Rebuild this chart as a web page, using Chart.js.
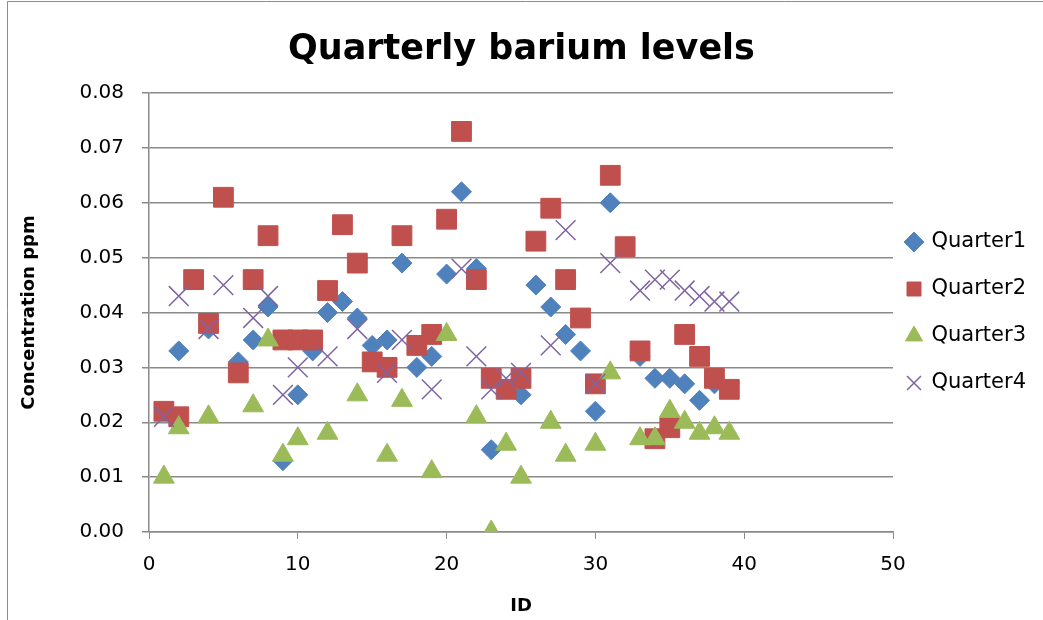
<!DOCTYPE html>
<html>
<head>
<meta charset="utf-8">
<script src="https://cdn.jsdelivr.net/npm/chart.js@4.4.1/dist/chart.umd.min.js"></script>
<style>
  body { margin: 0; background: #fff; }
</style>
</head>
<body>
<canvas id="chart1" width="1043" height="620"></canvas>
<script>
// data
const q1Id  = [2, 4, 6, 7, 8, 9, 10, 11, 12, 13, 14, 15, 16, 17, 18, 19, 20, 21, 22, 23, 25, 26, 27, 28, 29, 30, 31, 33, 34, 35, 36, 37, 38];
const q1Val = [0.033, 0.037, 0.031, 0.035, 0.041, 0.013, 0.025, 0.033, 0.040, 0.042, 0.039, 0.034, 0.035, 0.049, 0.030, 0.032, 0.047, 0.062, 0.048, 0.015, 0.025, 0.045, 0.041, 0.036, 0.033, 0.022, 0.060, 0.032, 0.028, 0.028, 0.027, 0.024, 0.027];

const q2Id  = [1, 2, 3, 4, 5, 6, 7, 8, 9, 10, 11, 12, 13, 14, 15, 16, 17, 18, 19, 20, 21, 22, 23, 24, 25, 26, 27, 28, 29, 30, 31, 32, 33, 34, 35, 36, 37, 38, 39];
const q2Val = [0.022, 0.021, 0.046, 0.038, 0.061, 0.029, 0.046, 0.054, 0.035, 0.035, 0.035, 0.044, 0.056, 0.049, 0.031, 0.030, 0.054, 0.034, 0.036, 0.057, 0.073, 0.046, 0.028, 0.026, 0.028, 0.053, 0.059, 0.046, 0.039, 0.027, 0.065, 0.052, 0.033, 0.017, 0.019, 0.036, 0.032, 0.028, 0.026];

const q3Id  = [1, 2, 4, 7, 8, 9, 10, 12, 14, 16, 17, 19, 20, 22, 23, 24, 25, 27, 28, 30, 31, 33, 34, 35, 36, 37, 38, 39];
const q3Val = [0.010, 0.019, 0.021, 0.023, 0.035, 0.014, 0.017, 0.018, 0.025, 0.014, 0.024, 0.011, 0.036, 0.021, 0.000, 0.016, 0.010, 0.020, 0.014, 0.016, 0.029, 0.017, 0.017, 0.022, 0.020, 0.018, 0.019, 0.018];

const q4Id  = [1, 2, 4, 5, 7, 8, 9, 10, 12, 14, 16, 17, 19, 21, 22, 23, 24, 25, 27, 28, 30, 31, 33, 34, 35, 36, 37, 38, 39];
const q4Val = [0.021, 0.043, 0.037, 0.045, 0.039, 0.043, 0.025, 0.030, 0.032, 0.037, 0.029, 0.035, 0.026, 0.048, 0.032, 0.026, 0.028, 0.029, 0.034, 0.055, 0.027, 0.049, 0.044, 0.046, 0.046, 0.044, 0.043, 0.042, 0.042];

const seriesNames = ['Quarter1', 'Quarter2', 'Quarter3', 'Quarter4'];

// pairs ids and values into {x, y}
function toPoints(ids, vals) {
    return ids.map((id, i) => ({ x: id, y: vals[i] }));
}

const gridGray = '#8a8a8a';
const fontName = '"DejaVu Sans", sans-serif';

// excel-style chart border, only the left and top edges show
const frame = {
    id: 'frame',
    beforeDraw(chart) {
        const c = chart.ctx;
        c.save();
        c.strokeStyle = '#8c8c8c';
        c.lineWidth = 1;
        c.beginPath();
        c.moveTo(7.5, 620);
        c.lineTo(7.5, 1.5);
        c.lineTo(1043, 1.5);
        c.stroke();
        c.restore();
    }
};

// pull the legend a bit closer to the plot
const legendNudge = {
    id: 'legendNudge',
    afterLayout(chart) {
        chart.legend.left -= 12;
        chart.legend.right -= 12;
    }
};

const ctx = document.querySelector('#chart1').getContext('2d');
const chart = new Chart(ctx, {
    type: 'scatter',
    data: {
        datasets: [{
            label: seriesNames[0],
            data: toPoints(q1Id, q1Val),
            pointStyle: 'rectRot',
            pointRadius: 10,
            backgroundColor: '#4F81BD',
            borderColor: '#4F81BD',
            borderWidth: 1,
            order: 4
        }, {
            label: seriesNames[1],
            data: toPoints(q2Id, q2Val),
            pointStyle: 'rect',
            pointRadius: 14,
            backgroundColor: '#C0504D',
            borderColor: '#C0504D',
            borderWidth: 1,
            order: 3
        }, {
            label: seriesNames[2],
            data: toPoints(q3Id, q3Val),
            pointStyle: 'triangle',
            pointRadius: 12,
            backgroundColor: '#9BBB59',
            borderColor: '#9BBB59',
            borderWidth: 1,
            order: 2
        }, {
            label: seriesNames[3],
            data: toPoints(q4Id, q4Val),
            pointStyle: 'crossRot',
            pointRadius: 14,
            backgroundColor: '#8064A2',
            borderColor: '#8064A2',
            borderWidth: 1.5,
            order: 1
        }]
    },
    options: {
        responsive: false,
        animation: false,
        layout: { padding: { top: 0, right: 0, bottom: 0, left: 0 } },
        plugins: {
            title: {
                display: true,
                text: 'Quarterly barium levels',
                color: '#000',
                font: { family: fontName, size: 35, weight: 'bold' },
                padding: { top: 29, bottom: 22 }
            },
            legend: {
                position: 'right',
                fullSize: false,
                maxWidth: 150,
                labels: {
                    usePointStyle: true,
                    boxWidth: 14,
                    boxHeight: 14,
                    padding: 26,
                    color: '#000',
                    font: { family: fontName, size: 21 },
                    sort: (a, b) => a.datasetIndex - b.datasetIndex
                }
            },
            tooltip: { enabled: false }
        },
        scales: {
            x: {
                type: 'linear',
                min: 0,
                max: 50,
                afterFit: (scale) => { scale.height = 88; },
                ticks: {
                    stepSize: 10,
                    padding: 14,
                    color: '#000',
                    font: { family: fontName, size: 20 }
                },
                grid: {
                    drawOnChartArea: false,
                    drawTicks: true,
                    tickLength: 7,
                    color: gridGray
                },
                border: { display: true, color: gridGray, width: 1.5 },
                title: {
                    display: true,
                    text: 'ID',
                    color: '#000',
                    font: { family: fontName, size: 18, weight: 'bold' },
                    padding: { top: 0, bottom: 3 }
                }
            },
            y: {
                min: 0,
                max: 0.08,
                afterFit: (scale) => { scale.width = 149; },
                ticks: {
                    stepSize: 0.01,
                    padding: 18,
                    color: '#000',
                    font: { family: fontName, size: 20 },
                    callback: (v) => v.toFixed(2)
                },
                grid: {
                    drawTicks: true,
                    tickLength: 7,
                    color: gridGray,
                    lineWidth: 1.5
                },
                border: { display: true, color: gridGray, width: 1.5 },
                title: {
                    display: true,
                    text: 'Concentration ppm',
                    color: '#000',
                    font: { family: fontName, size: 18, weight: 'bold' },
                    padding: { top: 19, bottom: 0 }
                }
            }
        }
    },
    plugins: [frame, legendNudge]
});
</script>
</body>
</html>
